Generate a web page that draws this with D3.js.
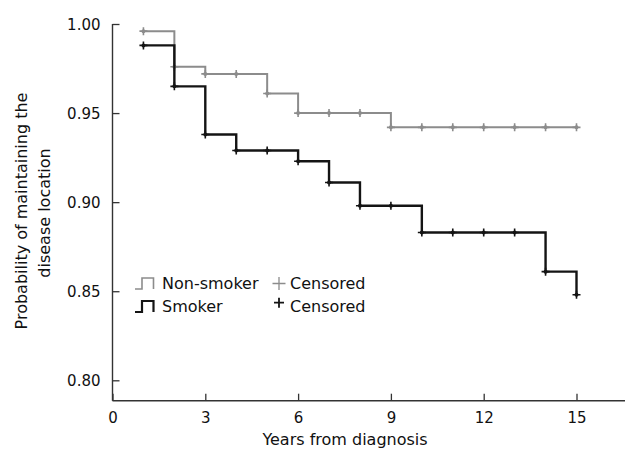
<!DOCTYPE html>
<html>
<head>
<meta charset="utf-8">
<script src="https://cdn.jsdelivr.net/npm/d3@7"></script>
<style>
  body { margin: 0; background: #fff; }
  text { font-family: "DejaVu Sans", Verdana, sans-serif; fill: #111; }
</style>
</head>
<body>
<div id="chart"></div>
<script>
// years of follow-up, one marker per year
const years = [1, 2, 3, 4, 5, 6, 7, 8, 9, 10, 11, 12, 13, 14, 15];
const nonSmoker = [0.996, 0.976, 0.972, 0.972, 0.961, 0.950, 0.950, 0.950, 0.942, 0.942, 0.942, 0.942, 0.942, 0.942, 0.942];
const smoker = [0.988, 0.965, 0.938, 0.929, 0.929, 0.923, 0.911, 0.898, 0.898, 0.883, 0.883, 0.883, 0.883, 0.861, 0.848];
const xTicks = [0, 3, 6, 9, 12, 15];
const yTicks = [0.80, 0.85, 0.90, 0.95, 1.00];

const W = 625, H = 450;
const svg = d3.select("#chart").append("svg")
    .attr("width", W)
    .attr("height", H);

const x = d3.scaleLinear().domain([0, 15]).range([112.5, 576.5]);
const y = d3.scaleLinear().domain([0.80, 1.00]).range([380.3, 24]);
const axisY = 400.7;

// axes lines
svg.append("line")
    .attr("x1", x(0)).attr("x2", W)
    .attr("y1", axisY).attr("y2", axisY)
    .attr("stroke", "#333").attr("stroke-width", 1.4);
svg.append("line")
    .attr("x1", x(0)).attr("x2", x(0))
    .attr("y1", y(1.0)).attr("y2", axisY)
    .attr("stroke", "#333").attr("stroke-width", 1.4);

// x ticks (inward)
const xg = svg.append("g")
    .attr("transform", `translate(0,${axisY})`)
    .call(d3.axisBottom(x).tickValues(xTicks).tickSizeInner(-7).tickSizeOuter(0).tickFormat(d3.format("d")));
xg.select(".domain").remove();
xg.selectAll("line").attr("stroke", "#333").attr("stroke-width", 1.3);
xg.selectAll("text")
    .attr("y", 22.5).attr("dy", null)
    .style("font-size", "15px")
    .style("font-family", "DejaVu Sans")
    .attr("fill", "#111");

// y ticks (inward)
const yg = svg.append("g")
    .attr("transform", `translate(${x(0)},0)`)
    .call(d3.axisLeft(y).tickValues(yTicks).tickSizeInner(-7).tickSizeOuter(0).tickFormat(d3.format(".2f")));
yg.select(".domain").remove();
yg.selectAll("line").attr("stroke", "#333").attr("stroke-width", 1.3);
yg.selectAll("text")
    .attr("x", -12).attr("dy", "0.36em")
    .style("font-size", "15px")
    .style("font-family", "DejaVu Sans")
    .attr("fill", "#111");

// axis titles
svg.append("text")
    .attr("x", 345).attr("y", 445)
    .attr("text-anchor", "middle")
    .style("font-size", "16px")
    .text("Years from diagnosis");

const ylab = svg.append("text")
    .attr("transform", "rotate(-90)")
    .attr("text-anchor", "middle")
    .style("font-size", "16px");
ylab.append("tspan").attr("x", -211).attr("y", 27).text("Probability of maintaining the");
ylab.append("tspan").attr("x", -213).attr("y", 50).text("disease location");

// survival curves
const line = d3.line()
    .x((d, i) => x(years[i]))
    .y(d => y(d))
    .curve(d3.curveStepAfter);

const series = [
    { name: "Non-smoker", values: nonSmoker, color: "#8c8c8c", width: 2 },
    { name: "Smoker", values: smoker, color: "#141414", width: 2.4 }
];

series.forEach(function(s) {
    svg.append("path")
        .attr("d", line(s.values))
        .attr("fill", "none")
        .attr("stroke", s.color)
        .attr("stroke-width", s.width);

    const m = svg.append("g").selectAll("g")
        .data(s.values)
      .enter().append("g")
        .attr("transform", (d, i) => `translate(${x(years[i])},${y(d)})`);
    m.append("path")
        .attr("d", "M-4,0H4M0,-4V4")
        .attr("stroke", s.color)
        .attr("stroke-width", 1.6);
    m.append("circle")
        .attr("r", 2)
        .attr("fill", s.color);
});

// legend
const legend = [
    { label: "Non-smoker", color: "#8c8c8c", width: 1.6, base: 288.5, plusW: 1.3, plusA: 6.5, plusY: 283.5 },
    { label: "Smoker", color: "#141414", width: 2.2, base: 311.5, plusW: 1.8, plusA: 5, plusY: 302.7 }
];
legend.forEach(function(l) {
    const b = l.base + 0.5;
    svg.append("path")
        .attr("d", `M135,${b}H142V${b - 11}H153.5V${b}`)
        .attr("fill", "none")
        .attr("stroke", l.color)
        .attr("stroke-width", l.width);
    svg.append("text")
        .attr("x", 162).attr("y", l.base)
        .style("font-size", "16px")
        .text(l.label);
    svg.append("path")
        .attr("d", `M${279 - l.plusA},${l.plusY}H${279 + l.plusA}M279,${l.plusY - l.plusA}V${l.plusY + l.plusA}`)
        .attr("stroke", l.color)
        .attr("stroke-width", l.plusW);
    svg.append("text")
        .attr("x", 290).attr("y", l.base)
        .style("font-size", "16px")
        .text("Censored");
});
</script>
</body>
</html>
